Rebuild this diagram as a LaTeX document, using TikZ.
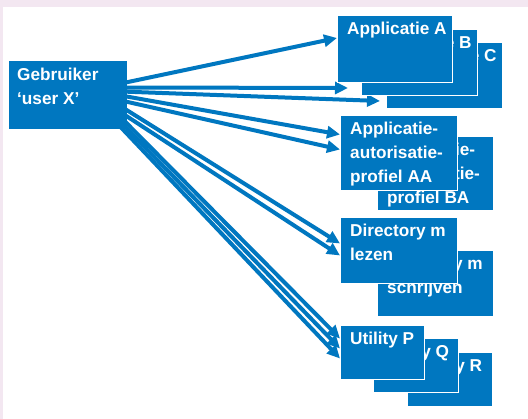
\documentclass[tikz,border=0pt]{standalone}
\usepackage{fontspec}
\setmainfont{Liberation Sans}
\usetikzlibrary{calc,arrows.meta}
\definecolor{blauw}{RGB}{0,119,192}
\definecolor{roze}{RGB}{243,231,241}
\pgfdeclarelayer{achter}
\pgfdeclarelayer{pijlen}
\pgfsetlayers{achter,pijlen,main}

\begin{document}
\begin{tikzpicture}[x=1pt,y=1pt,
  blok/.style={fill=blauw, draw=white, line width=1pt, anchor=north west, inner sep=0pt, minimum width=116, minimum height=66},
  tekst/.style={anchor=north west, inner sep=0pt, xshift=10, yshift=-7, align=left, text=white,
    font=\fontsize{17.2}{24}\selectfont\bfseries},
  pijl/.style={draw=blauw, line width=4pt, -{Triangle[length=13pt,width=12pt]}}]
% background and frame
\useasboundingbox (0,0) rectangle (528,419);
\begin{pgfonlayer}{achter}
\fill[white] (0,0) rectangle (528,419);
\fill[roze] (0,412) rectangle (528,419);
\fill[roze] (0,0) rectangle (3,419);
\end{pgfonlayer}
% define the user box
\node[blok, draw=blauw, minimum width=117, minimum height=67,
  label={[tekst, xshift=-2]north west:Gebruiker\\‘user X’}] (user) at (9,358) {};
% define the boxes behind
\node[blok, label={[tekst, xshift=1]north west:Applicatie C}] (appC) at (386,377) {};
\node[blok, label={[tekst, xshift=1]north west:Applicatie B}] (appB) at (361,390) {};
\node[blok, minimum height=74, label={[tekst]north west:Applicatie-\\autorisatie-\\profiel BA}] (profBA) at (377,283) {};
\node[blok, label={[tekst]north west:Directory m\\schrijven}] (dirS) at (377,169) {};
\node[blok, minimum width=85, minimum height=54, label={[tekst]north west:Utility R}] (utilR) at (407,67) {};
\node[blok, minimum width=85, minimum height=54, label={[tekst]north west:Utility Q}] (utilQ) at (373,81) {};
% define the boxes in front
\node[blok, minimum width=115, minimum height=67, label={[tekst]north west:Applicatie A}] (appA) at (337,404) {};
\node[blok, minimum width=117, minimum height=75, label={[tekst]north west:Applicatie-\\autorisatie-\\profiel AA}] (profAA) at (340,304) {};
\node[blok, minimum width=117, label={[tekst]north west:Directory m\\lezen}] (dirL) at (340,202) {};
\node[blok, minimum width=84, minimum height=54, label={[tekst]north west:Utility P}] (utilP) at (340,94) {};
% draw the arrows under the boxes
\begin{pgfonlayer}{pijlen}
\draw[pijl] ([shift={(-6,11.5)}]user.east) -- ([yshift=11]appA.west);
\draw[pijl] ([shift={(-6,7.5)}]user.east) -- ([shift={(-13,8)}]appB.south west);
\draw[pijl] ([shift={(-6,3.5)}]user.east) -- ([shift={(-6,8)}]appC.south west);
\draw[pijl] ([shift={(-6,-0.5)}]user.east) -- ([yshift=18.5]profAA.west);
\draw[pijl] ([shift={(-6,-5.5)}]user.east) -- ([yshift=3.5]profAA.west);
\draw[pijl] ([shift={(-6,-11.5)}]user.east) -- ([yshift=7]dirL.west);
\draw[pijl] ([shift={(-6,-17.5)}]user.east) -- ([yshift=-5]dirL.west);
\draw[pijl] ([shift={(-6,-22.5)}]user.east) -- ([yshift=14]utilP.west);
\draw[pijl] ([shift={(-6,-27.5)}]user.east) -- ([yshift=4]utilP.west);
\draw[pijl] ([shift={(-6,-32.5)}]user.east) -- ([yshift=-6]utilP.west);
\end{pgfonlayer}
\end{tikzpicture}
\end{document}
